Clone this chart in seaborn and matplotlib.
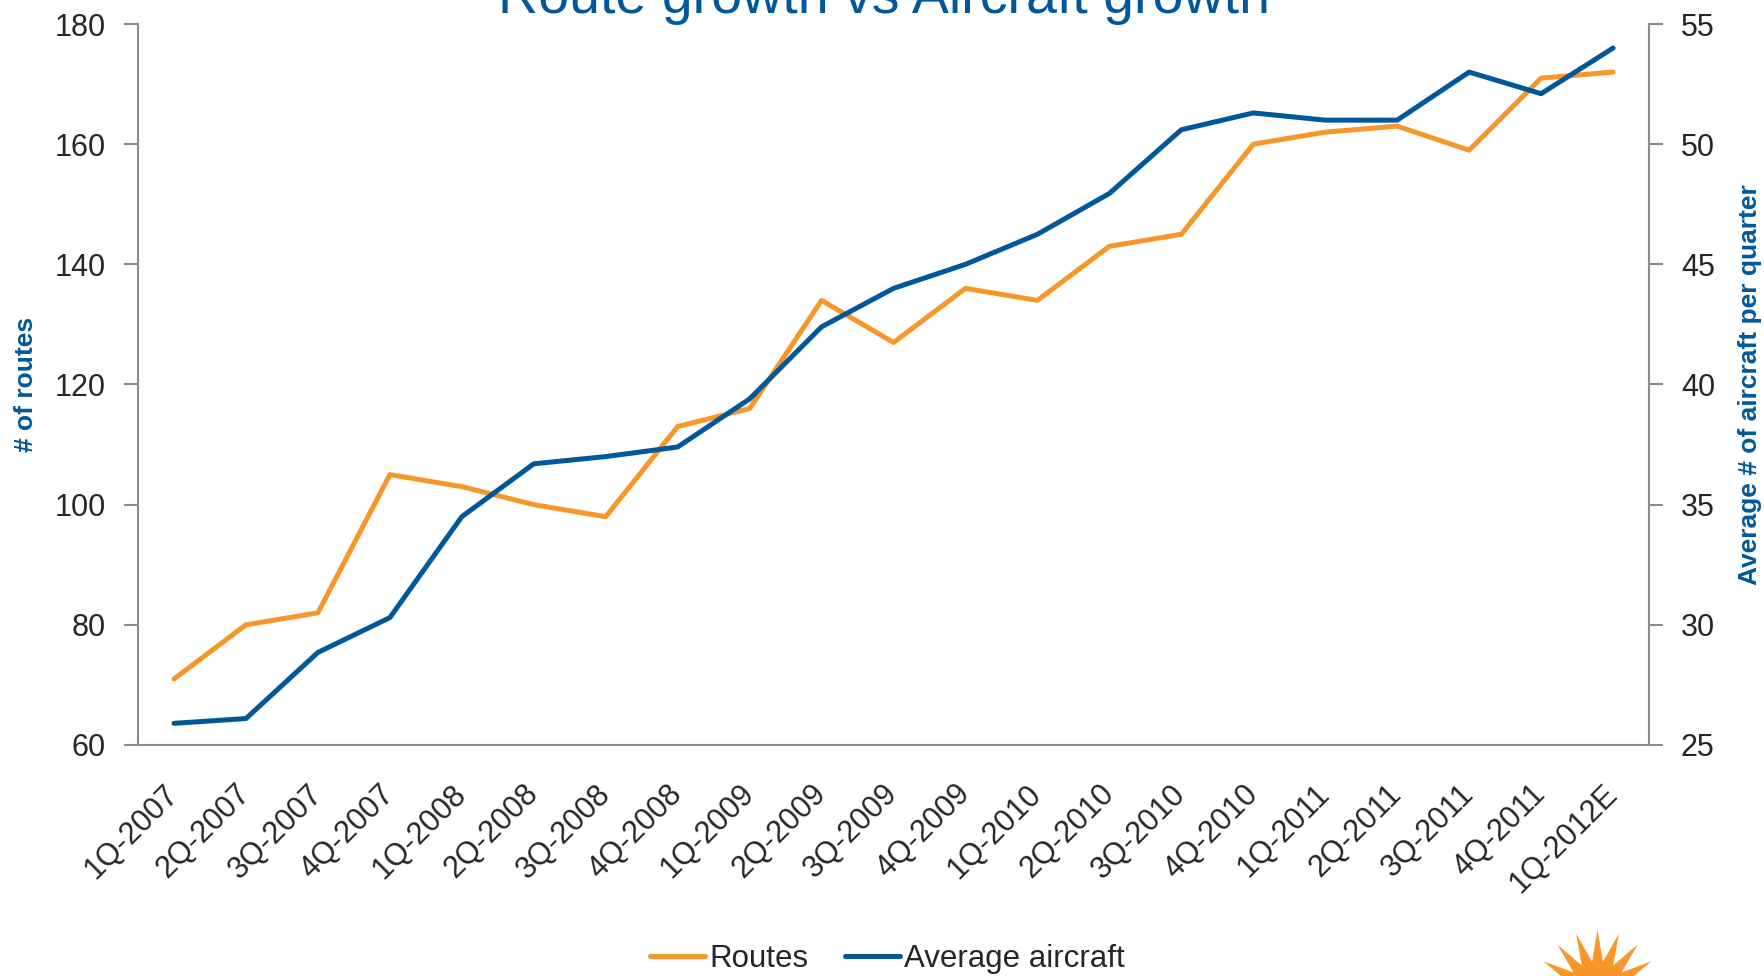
import numpy as np
import pandas as pd
import matplotlib
matplotlib.use("Agg")
import matplotlib.pyplot as plt
from matplotlib.lines import Line2D
import seaborn as sns

# ── Data ──────────────────────────────────────────────────────────────────────
quarters = ['1Q-2007', '2Q-2007', '3Q-2007', '4Q-2007',
            '1Q-2008', '2Q-2008', '3Q-2008', '4Q-2008',
            '1Q-2009', '2Q-2009', '3Q-2009', '4Q-2009',
            '1Q-2010', '2Q-2010', '3Q-2010', '4Q-2010',
            '1Q-2011', '2Q-2011', '3Q-2011', '4Q-2011', '1Q-2012E']
routes   = [71, 80, 82, 105, 103, 100, 98, 113, 116, 134, 127,
            136, 134, 143, 145, 160, 162, 163, 159, 171, 172]
aircraft = [25.9, 26.1, 28.85, 30.3, 34.5, 36.7, 37.0, 37.4, 39.4, 42.4, 44.0,
            45.0, 46.25, 47.95, 50.6, 51.3, 51.0, 51.0, 53.0, 52.1, 54.0]
left_ticks  = [60, 80, 100, 120, 140, 160, 180]
right_ticks = [25, 30, 35, 40, 45, 50, 55]

# ── Style ─────────────────────────────────────────────────────────────────────
ORANGE = '#F7972A'
BLUE   = '#00589B'
GREY   = '#8A8A8A'

sns.set_style("white")
plt.rcParams['font.family'] = ['Liberation Sans', 'DejaVu Sans']

df = pd.DataFrame({'quarter': quarters, 'routes': routes, 'aircraft': aircraft})

fig = plt.figure(figsize=(17.65, 9.76), dpi=100)
ax = fig.add_axes([0.0782, 0.2367, 0.8561, 0.7387])
ax2 = ax.twinx()

sns.lineplot(data=df, x='quarter', y='routes', ax=ax, color=ORANGE,
             linewidth=3.6, label='Routes', sort=False)
sns.lineplot(data=df, x='quarter', y='aircraft', ax=ax2, color=BLUE,
             linewidth=3.6, label='Average aircraft', sort=False)

n = len(quarters)
ax.set_xlim(-0.5, n - 0.5)
ax.set_ylim(left_ticks[0], left_ticks[-1])
ax2.set_ylim(right_ticks[0], right_ticks[-1])
ax.set_yticks(left_ticks)
ax2.set_yticks(right_ticks)

# category labels at centres, tick marks on the boundaries
ax.set_xticks(np.arange(n))
ax.set_xticklabels(quarters, rotation=45, ha='right', va='center',
                   rotation_mode='anchor')
ax.set_xticks(np.arange(n + 1) - 0.5, minor=True)
ax.tick_params(axis='x', which='major', length=0, pad=32, labelsize=22)
ax.tick_params(axis='x', which='minor', length=10, width=1.5, color=GREY)
ax.tick_params(axis='y', length=10, width=1.5, color=GREY, pad=13, labelsize=22)
ax2.tick_params(axis='y', length=10, width=1.5, color=GREY, pad=13, labelsize=22)

for a in (ax, ax2):
    for s in a.spines.values():
        s.set_color(GREY)
        s.set_linewidth(1.5)
    a.spines['top'].set_visible(False)
ax.spines['right'].set_visible(False)
ax2.spines['left'].set_visible(False)
ax2.spines['bottom'].set_visible(False)

ax.set_xlabel('')
ax.set_ylabel('# of routes', fontsize=19, fontweight='bold', color=BLUE)
ax2.set_ylabel('Average # of aircraft per quarter', fontsize=19,
               fontweight='bold', color=BLUE)
ax.yaxis.set_label_coords(-0.0665, 0.5)
ax2.yaxis.set_label_coords(1.059, 0.5)

fig.text(0.5006, 0.9867, 'Route growth vs Aircraft growth', fontsize=40,
         color=BLUE, ha='center', va='baseline')

# ── Legend ────────────────────────────────────────────────────────────────────
h1, l1 = ax.get_legend_handles_labels()
h2, l2 = ax2.get_legend_handles_labels()
ax.get_legend().remove()
ax2.get_legend().remove()
fig.legend(h1 + h2, l1 + l2, loc='center', bbox_to_anchor=(0.5028, 0.0175),
           ncol=2, frameon=False, fontsize=22.5, handlelength=1.76,
           handletextpad=0.13, columnspacing=1.15)

# ── Logo (partly cropped sunburst, bottom right) ─────────────────────────────
fig.add_artist(Line2D([0.905], [-0.016], marker=(18, 1, 0), markersize=90,
                      color=ORANGE, markeredgewidth=0, linestyle='none',
                      transform=fig.transFigure, clip_on=False))

fig.savefig('out.png', dpi=100)
